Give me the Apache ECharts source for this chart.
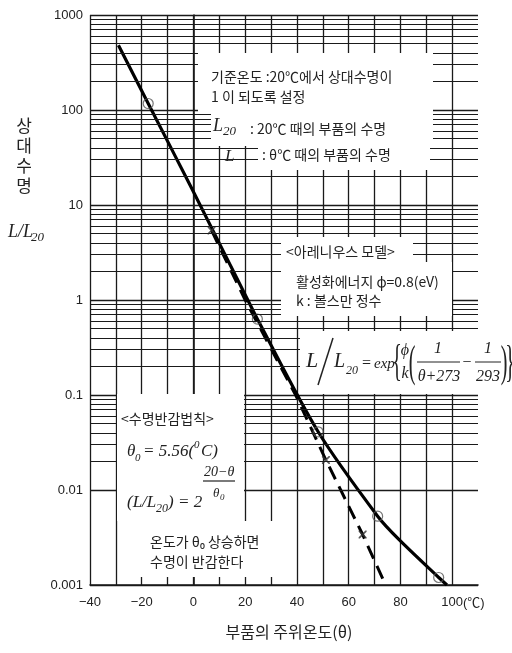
<!DOCTYPE html>
<html>
<head>
<meta charset="utf-8">
<script src="https://cdn.jsdelivr.net/npm/echarts@6/dist/echarts.min.js"></script>
<style>
  html, body { margin: 0; padding: 0; background: #fff; }
  #chart { width: 512px; height: 653px; }
</style>
</head>
<body>
<div id="chart"></div>
<script>
// Arrhenius model curve: ambient temperature (°C) vs. relative life L/L20
const arrheniusTemps = [-29, -17.5, -0.7, 21, 24.7, 48.2, 71.2, 79.5, 94.8, 98];
const arrheniusLife  = [480, 117, 15, 1.0, 0.63, 0.041, 0.0053, 0.003, 0.0012, 0.001];

// circle marks on the Arrhenius curve
const circleTemps = [-17.5, 24.7, 48.2, 71.2, 94.8];
const circleLife  = [117, 0.63, 0.041, 0.0053, 0.0012];

// half-life rule (θ0 = 5.56 °C), dashed line
const halfTemps = [7, 20, 39.5, 51.2, 65.4, 74.3];
const halfLife  = [5.4, 1.0, 0.1, 0.0207, 0.0034, 0.001];

// cross marks on the half-life line
const crossTemps = [7, 51.2, 65.4];
const crossLife  = [5.4, 0.0207, 0.0034];

// axis ticks
const xTickLabels = [-40, -20, 0, 20, 40, 60, 80, 100];
const decades = [0.001, 0.01, 0.1, 1, 10, 100];
const minorFactors = [2, 3, 4, 5, 6, 7, 8, 9];

const INK = '#1a1a1a';
const TXT = '#222';
const KR = '"Noto Sans CJK KR", "Noto Sans", sans-serif';
const SERIF = '"Liberation Serif", "DejaVu Serif", serif';
const SANS = '"Liberation Sans", "Noto Sans CJK KR", sans-serif';

const pair = (xs, ys) => xs.map((x, i) => [x, ys[i]]);

// minor horizontal grid lines inside each decade (2..9 × 10^n)
const minorLines = [];
decades.forEach(d => minorFactors.forEach(f => minorLines.push({ yAxis: +(d * f).toPrecision(3) })));

// ---- graphic overlay: white panels and annotation text ----
const panel = (x, y, w, h) => ({
  type: 'rect', silent: true, z: 100,
  shape: { x, y, width: w, height: h }, style: { fill: '#fff' }
});
const text = (x, y, str, font, extra) => ({
  type: 'text', silent: true, z: 101, x, y,
  style: Object.assign({ text: str, font, fill: TXT, align: 'left', verticalAlign: 'middle' }, extra || {})
});
const rule = (x1, y1, x2, y2, w) => ({
  type: 'line', silent: true, z: 101,
  shape: { x1, y1, x2, y2 }, style: { stroke: TXT, lineWidth: w || 1.2 }
});
const tall = (x, y, ch, sy) => ({
  type: 'text', silent: true, z: 101, x, y, scaleY: sy,
  style: { text: ch, font: '20px ' + SERIF, fill: TXT, align: 'center', verticalAlign: 'middle' }
});

const kr14 = '14px ' + KR;
const it = s => 'italic ' + s + 'px ' + SERIF;

const graphics = [
  // panels
  panel(198, 53, 235, 59),
  panel(211, 112, 222, 34),
  panel(258, 146, 172, 24),
  panel(281, 237, 132, 25),
  panel(281, 262, 171, 54),
  panel(300, 331, 212, 63),
  panel(117, 394, 127, 127),
  panel(140, 521, 138, 56),

  // reference temperature note
  text(211, 77, '기준온도 :20℃에서 상대수명이', kr14),
  text(211, 97, '1 이 되도록 설정', kr14),
  text(213, 126, 'L', it(18)),
  text(223, 132, '20', it(13)),
  text(250, 129, ': 20℃ 때의 부품의 수명', kr14),
  text(225, 157, 'L', it(17)),
  text(262, 155, ': θ℃ 때의 부품의 수명', kr14),

  // Arrhenius model note
  text(286, 252, '<아레니우스 모델>', kr14),
  text(296, 282, '활성화에너지 ϕ=0.8(eV)', kr14),
  text(296, 301, 'k : 볼스만 정수', kr14),

  // Arrhenius formula
  text(306, 361, 'L', it(22)),
  rule(333, 338, 318, 385, 1.5),
  text(334, 362, 'L', it(20)),
  text(346, 371, '20', it(12)),
  text(362, 364, '=', '16px ' + SERIF),
  text(374, 364, 'exp', it(15)),
  tall(397, 363, '{', 2.2),
  text(405, 351, 'ϕ', it(16), { align: 'center' }),
  text(405, 374, 'k', it(16), { align: 'center' }),
  tall(412, 364, '(', 2.2),
  text(438, 349, '1', it(16), { align: 'center' }),
  rule(417, 362, 460, 362, 1),
  text(439, 377, 'θ+273', it(16), { align: 'center' }),
  text(467, 363, '−', '16px ' + SERIF, { align: 'center' }),
  text(488, 349, '1', it(16), { align: 'center' }),
  rule(475, 362, 501, 362, 1),
  text(488, 377, '293', it(16), { align: 'center' }),
  tall(504, 364, ')', 2.2),
  tall(510, 364, '}', 2.2),

  // half-life rule note
  text(121, 419, '<수명반감법칙>', kr14),
  text(127, 452, 'θ', it(17)),
  text(135, 458, '0', it(11)),
  text(143, 452, '= 5.56(', it(17)),
  text(194, 445, '0', it(11)),
  text(201, 452, 'C)', it(17)),
  text(204, 472, '20−θ', it(14)),
  rule(203, 481, 235, 481, 1.2),
  text(213, 494, 'θ', it(13)),
  text(220, 498, '0', it(9)),
  text(127, 503, '(L/L', it(17)),
  text(156, 509, '20', it(12)),
  text(168, 503, ') = 2', it(17)),
  text(150, 542, '온도가 θ₀ 상승하면', kr14),
  text(150, 562, '수명이 반감한다', kr14),

  // axis titles
  text(24, 156, '상\n대\n수\n명', '17px ' + KR, { align: 'center', lineHeight: 20 }),
  text(8, 232, 'L/L', it(18)),
  text(31, 238, '20', it(13)),
  text(463, 603, '(℃)', '13px ' + SANS),
  text(289, 632, '부품의 주위온도(θ)', '16px ' + KR, { align: 'center' })
];

const chart = echarts.init(document.getElementById('chart'), null, { renderer: 'canvas' });
chart.setOption({
  animation: false,
  backgroundColor: '#fff',
  grid: { left: 90, right: 34, top: 15, bottom: 68, containLabel: false },
  xAxis: {
    type: 'value', min: -40, max: 110, interval: 10,
    axisLine: { show: true, lineStyle: { color: INK, width: 1.6 } },
    axisTick: { show: false },
    axisLabel: {
      margin: 11, color: TXT, fontSize: 13, fontFamily: SANS,
      formatter: v => xTickLabels.includes(v) ? (v < 0 ? '−' + Math.abs(v) : String(v)) : ''
    },
    splitLine: { show: true, showMaxLine: false, lineStyle: { color: INK, width: 1.3 } }
  },
  yAxis: {
    type: 'log', logBase: 10, min: 0.001, max: 1000,
    axisLine: { show: true, lineStyle: { color: INK, width: 1.6 } },
    axisTick: { show: false },
    axisLabel: {
      margin: 7, color: TXT, fontSize: 13, fontFamily: SANS,
      formatter: v => String(+v.toPrecision(3))
    },
    splitLine: { show: true, lineStyle: { color: INK, width: 1.3 } }
  },
  series: [
    {
      // minor log grid
      type: 'line', data: [], z: 1, silent: true,
      markLine: {
        silent: true, symbol: 'none', animation: false,
        label: { show: false },
        lineStyle: { color: INK, width: 1.2, type: 'solid' },
        emphasis: { disabled: true },
        data: minorLines
      }
    },
    {
      name: 'Arrhenius', type: 'line', z: 3,
      data: pair(arrheniusTemps, arrheniusLife),
      smooth: 0.3, showSymbol: false,
      lineStyle: { color: '#000', width: 3.2 }
    },
    {
      name: 'half-life', type: 'line', z: 3,
      data: pair(halfTemps, halfLife),
      showSymbol: false,
      lineStyle: { color: '#000', width: 3, type: [14, 8] }
    },
    {
      type: 'scatter', z: 4,
      data: pair(circleTemps, circleLife),
      symbol: 'circle', symbolSize: 10,
      itemStyle: { color: 'rgba(0,0,0,0)', borderColor: '#555', borderWidth: 1.2 }
    },
    {
      type: 'scatter', z: 4,
      data: pair(crossTemps, crossLife),
      symbol: 'path://M0 0L1.5 0L5 3.5L8.5 0L10 0L10 1.5L6.5 5L10 8.5L10 10L8.5 10L5 6.5L1.5 10L0 10L0 8.5L3.5 5L0 1.5Z',
      symbolSize: 8,
      itemStyle: { color: '#333' }
    }
  ],
  graphic: graphics
});
</script>
</body>
</html>
